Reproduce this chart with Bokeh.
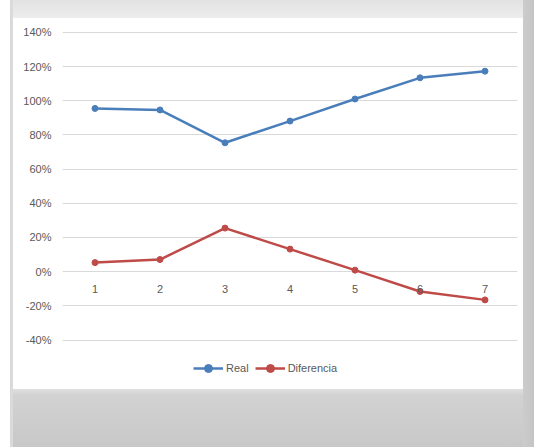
from bokeh.plotting import figure
from bokeh.layouts import column
from bokeh.models import (Range1d, FixedTicker, NumeralTickFormatter, Legend, LegendItem)
from bokeh.embed import file_html
from bokeh.resources import INLINE

categories = [1, 2, 3, 4, 5, 6, 7]
real = [0.955, 0.946, 0.754, 0.881, 1.010, 1.134, 1.173]
diferencia = [0.053, 0.071, 0.255, 0.132, 0.009, -0.116, -0.165]
y_ticks = [-0.4, -0.2, 0.0, 0.2, 0.4, 0.6, 0.8, 1.0, 1.2, 1.4]

BLUE = "#4a7ebb"
RED = "#be4b48"
TXT = "#595959"
FONT = "Liberation Sans"

p = figure(width=510, height=371, output_backend="svg", toolbar_location=None,
           x_range=Range1d(0.5, 7.5), y_range=Range1d(-0.66, 1.405),
           min_border_left=49, min_border_right=6, min_border_top=13, min_border_bottom=5,
           margin=(18, 11, 58, 13), styles={"background": "white"})
p.background_fill_color = "white"
p.border_fill_color = "white"
p.outline_line_color = None

p.xgrid.visible = False
p.ygrid.ticker = FixedTicker(ticks=y_ticks)
p.ygrid.grid_line_color = "#d9d9d9"
p.ygrid.grid_line_width = 1

ya = p.yaxis[0]
ya.ticker = FixedTicker(ticks=y_ticks)
ya.formatter = NumeralTickFormatter(format="0%")
ya.axis_line_color = None
ya.major_tick_line_color = None
ya.minor_tick_line_color = None
ya.major_tick_in = 0
ya.major_tick_out = 0
ya.major_label_standoff = 11
ya.major_label_text_font = FONT
ya.major_label_text_font_size = "11px"
ya.major_label_text_color = TXT

xa = p.xaxis[0]
xa.ticker = FixedTicker(ticks=categories)
xa.fixed_location = 0
xa.axis_line_color = None
xa.major_tick_line_color = None
xa.minor_tick_line_color = None
xa.major_tick_in = 0
xa.major_tick_out = 0
xa.major_label_standoff = 13
xa.major_label_text_font = FONT
xa.major_label_text_font_size = "11px"
xa.major_label_text_color = TXT

l1 = p.line(categories, real, line_color=BLUE, line_width=2.5)
c1 = p.scatter(categories, real, size=6, fill_color=BLUE, line_color=BLUE)
l2 = p.line(categories, diferencia, line_color=RED, line_width=2.5)
c2 = p.scatter(categories, diferencia, size=6, fill_color=RED, line_color=RED)

legend = Legend(items=[LegendItem(label="Real", renderers=[l1, c1]),
                       LegendItem(label="Diferencia", renderers=[l2, c2])],
                orientation="horizontal", location=(131, 6))
legend.border_line_color = None
legend.background_fill_alpha = 0
legend.label_text_font = FONT
legend.label_text_font_size = "11px"
legend.label_text_color = TXT
legend.glyph_width = 30
legend.spacing = 6
legend.padding = 4
legend.margin = 0
legend.label_standoff = 3
p.add_layout(legend)

bg = ("linear-gradient(to right, #ffffff 0px, #ffffff 10px, #d8d8d8 10px, #dcdcdc 13px, "
      "transparent 13px, transparent 523px, #cccccc 523px, #c4c4c4 534px), "
      "linear-gradient(to bottom, #e2e2e2 0px, #ededed 18px, #e0e0e0 389px, #d2d2d2 395px, #c8c8c8 447px)")
layout = column(p, styles={"background": bg})

open("out.html", "w").write(file_html(layout, INLINE))
